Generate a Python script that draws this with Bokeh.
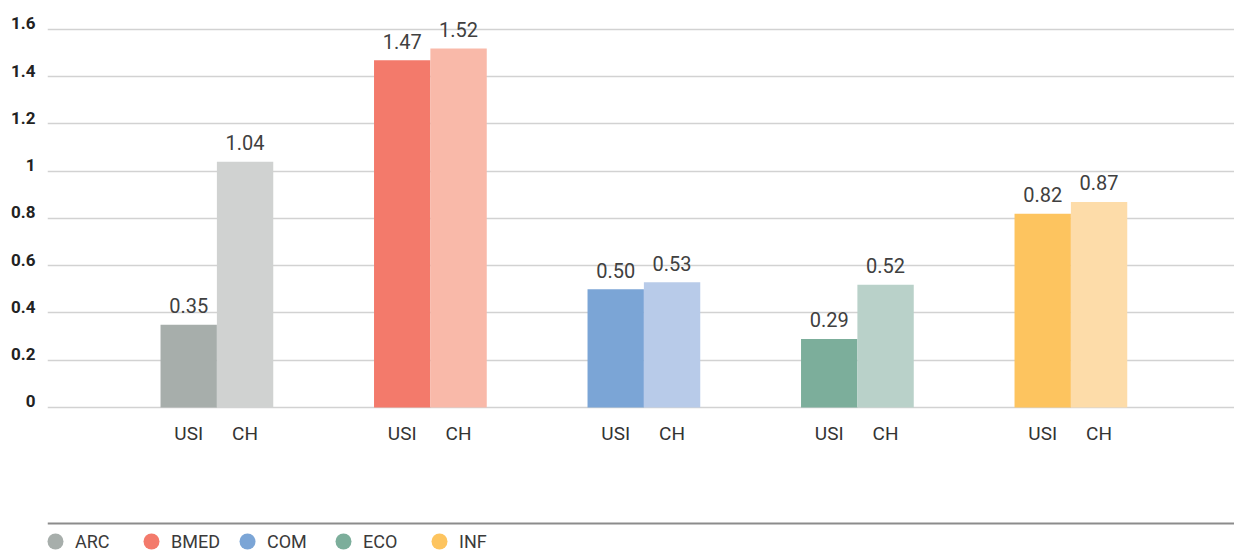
from bokeh.plotting import figure
from bokeh.models import (Range1d, FixedTicker, ColumnDataSource, Legend, LegendItem,
                          Span, NumeralTickFormatter)
from bokeh.core.properties import value
from bokeh.embed import file_html
from bokeh.resources import INLINE

# ---- data ----
groups = ["ARC", "BMED", "COM", "ECO", "INF"]
series = ["USI", "CH"]
usi_values = [0.35, 1.47, 0.50, 0.29, 0.82]
ch_values = [1.04, 1.52, 0.53, 0.52, 0.87]
value_labels_usi = ["0.35", "1.47", "0.50", "0.29", "0.82"]
value_labels_ch = ["1.04", "1.52", "0.53", "0.52", "0.87"]
usi_colors = ["#a7aeab", "#f37a6b", "#7ba5d6", "#7cae9b", "#fdc45f"]
ch_colors = ["#d0d2d1", "#f9b9a9", "#b8cbe9", "#b9d1c9", "#fddca9"]
y_ticks = [0, 0.2, 0.4, 0.6, 0.8, 1, 1.2, 1.4, 1.6]

# ---- layout constants ----
BAR_W = 0.264
OFF = BAR_W / 2
FONT = "Roboto"
NAN = float("nan")
Y0, Y1 = -0.6138, 1.7227
LABEL_SHIFT = 0.0254   # lifts the y tick labels slightly above their grid lines

idx = list(range(len(groups)))
usi_x = [i - OFF for i in idx]
ch_x = [i + OFF for i in idx]

src_usi = ColumnDataSource(dict(x=usi_x, top=usi_values, color=usi_colors,
                                label=value_labels_usi, cat=[series[0]] * len(groups)))
src_ch = ColumnDataSource(dict(x=ch_x, top=ch_values, color=ch_colors,
                               label=value_labels_ch, cat=[series[1]] * len(groups)))

p = figure(width=1234, height=552,
           x_range=Range1d(-0.7934, 4.7663), y_range=Range1d(Y0, Y1),
           output_backend="svg", toolbar_location=None, x_axis_location=None,
           min_border_left=47, min_border_right=0, min_border_top=0, min_border_bottom=0)
p.outline_line_color = None
p.xgrid.visible = False
p.extra_y_ranges = {"lab": Range1d(Y0 - LABEL_SHIFT, Y1 - LABEL_SHIFT)}

# y axis
p.yaxis.y_range_name = "lab"
p.yaxis.ticker = FixedTicker(ticks=y_ticks)
p.yaxis.formatter = NumeralTickFormatter(format="0.[0]")
p.yaxis.axis_line_color = None
p.yaxis.major_tick_line_color = None
p.yaxis.minor_tick_line_color = None
p.yaxis.major_tick_out = 0
p.yaxis.major_tick_in = 0
p.yaxis.major_label_standoff = 12
p.yaxis.major_label_text_font = FONT
p.yaxis.major_label_text_font_style = "bold"
p.yaxis.major_label_text_font_size = "17px"
p.yaxis.major_label_text_color = "#222222"
p.ygrid.grid_line_color = "#d2d2d2"
p.ygrid.grid_line_width = 1.5

# bars
p.vbar(x="x", top="top", width=BAR_W, bottom=0, color="color", line_color=None, source=src_usi)
p.vbar(x="x", top="top", width=BAR_W, bottom=0, color="color", line_color=None, source=src_ch)

# value labels and category labels
for src in (src_usi, src_ch):
    p.text(x="x", y="top", text="label", source=src, text_align="center",
           text_baseline="alphabetic", y_offset=-19, text_font=value(FONT),
           text_font_size="20px", text_color="#404040")
    p.text(x="x", y=0, text="cat", source=src, text_align="center",
           text_baseline="alphabetic", y_offset=26, text_font=value(FONT),
           text_font_size="19px", text_color="#333333")

# separator line above legend
p.add_layout(Span(location=-0.491, dimension="width", line_color="#8c8c8c", line_width=2))

# legend (circle markers; the renderers hold a single NaN point so they draw nothing)
items = []
for g, c in zip(groups, usi_colors):
    r = p.scatter(x=[NAN], y=[NAN], marker="circle", size=16, color=c, line_color=None)
    items.append(LegendItem(label=g, renderers=[r]))
legend = Legend(items=items, orientation="horizontal", location=(-12, -9),
                glyph_width=40, glyph_height=40, label_standoff=0, label_width=56,
                spacing=0, padding=0, margin=0, border_line_color=None,
                background_fill_alpha=0, label_text_font=FONT,
                label_text_font_size="18px", label_text_color="#3a3a3a")
p.add_layout(legend)

open("out.html", "w").write(file_html(p, INLINE))
